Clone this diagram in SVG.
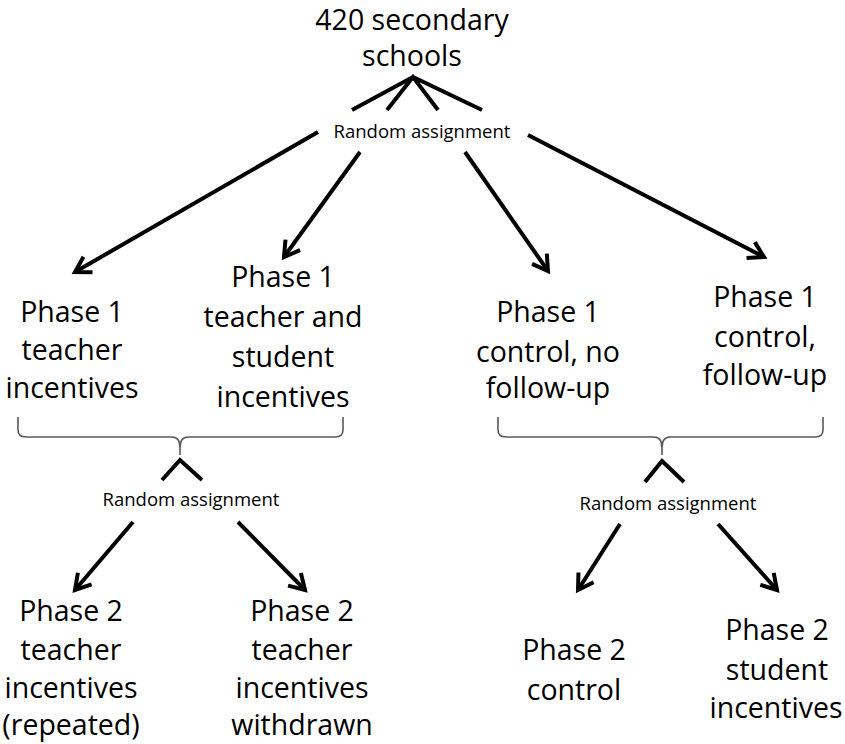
<svg xmlns="http://www.w3.org/2000/svg" width="845" height="744" viewBox="0 0 845 744">
<defs>
<style>
.t{font-family:"Open Sans","Liberation Sans",sans-serif;font-size:28.5px;fill:#000;text-anchor:middle}
.s{font-family:"Open Sans","Liberation Sans",sans-serif;font-size:18.5px;fill:#000;text-anchor:middle}
.ln{stroke:#000;stroke-width:4;fill:none;stroke-linecap:butt}
.br{stroke:#595959;stroke-width:1.6;fill:none}
</style>
<marker id="ah" markerUnits="userSpaceOnUse" markerWidth="30" markerHeight="30" viewBox="-20 -15 30 30" refX="0" refY="0" orient="auto">
<path d="M-15,-9 L0,0 L-15,9" stroke="#000" stroke-width="4" fill="none" stroke-linejoin="miter"/>
</marker>
</defs>
<rect width="845" height="744" fill="#fff"/>

<g id="root">
<text class="t" x="412" y="30">420 secondary</text>
<text class="t" x="412" y="66">schools</text>
</g>

<g id="ra-top"><text class="s" x="422" y="138">Random assignment</text></g>
<g id="ra-left"><text class="s" x="191" y="506">Random assignment</text></g>
<g id="ra-right"><text class="s" x="668" y="510">Random assignment</text></g>

<g id="p1-teacher">
<text class="t" x="72" y="322">Phase 1</text>
<text class="t" x="72" y="360">teacher</text>
<text class="t" x="72" y="398">incentives</text>
</g>
<g id="p1-teacher-student">
<text class="t" x="283" y="287">Phase 1</text>
<text class="t" x="283" y="327">teacher and</text>
<text class="t" x="283" y="367">student</text>
<text class="t" x="283" y="407">incentives</text>
</g>
<g id="p1-control-nofollow">
<text class="t" x="548" y="322">Phase 1</text>
<text class="t" x="548" y="362">control, no</text>
<text class="t" x="548" y="398">follow-up</text>
</g>
<g id="p1-control-follow">
<text class="t" x="765" y="307">Phase 1</text>
<text class="t" x="765" y="347">control,</text>
<text class="t" x="765" y="385">follow-up</text>
</g>

<g id="p2-teacher-repeated">
<text class="t" x="71" y="621">Phase 2</text>
<text class="t" x="71" y="660">teacher</text>
<text class="t" x="71" y="698">incentives</text>
<text class="t" x="71" y="735">(repeated)</text>
</g>
<g id="p2-teacher-withdrawn">
<text class="t" x="302" y="621">Phase 2</text>
<text class="t" x="302" y="660">teacher</text>
<text class="t" x="302" y="698">incentives</text>
<text class="t" x="302" y="735">withdrawn</text>
</g>
<g id="p2-control">
<text class="t" x="574" y="660">Phase 2</text>
<text class="t" x="574" y="700">control</text>
</g>
<g id="p2-student">
<text class="t" x="777" y="640">Phase 2</text>
<text class="t" x="777" y="680">student</text>
<text class="t" x="776" y="718">incentives</text>
</g>

<g id="connectors">
<path class="ln" d="M352,110 L413,77 L482,110 M387,110 L413,77 L438,110" stroke-linejoin="miter"/>
<line class="ln" x1="318" y1="132" x2="75" y2="272" marker-end="url(#ah)"/>
<line class="ln" x1="360" y1="152" x2="284" y2="257" marker-end="url(#ah)"/>
<line class="ln" x1="465" y1="152" x2="548" y2="271" marker-end="url(#ah)"/>
<line class="ln" x1="528" y1="135" x2="764" y2="257" marker-end="url(#ah)"/>

<path class="br" d="M18,417 L18,430 Q18,437 26,437 L172,437 Q180,437 180,448 L180,455 L180,448 Q180,437 188,437 L335,437 Q343,437 343,430 L343,417"/>
<path class="br" d="M498,417 L498,430 Q498,437 506,437 L654,437 Q662,437 662,448 L662,455 L662,448 Q662,437 670,437 L815,437 Q823,437 823,430 L823,417"/>

<path class="ln" d="M162,480 L180,460 L202,480"/>
<path class="ln" d="M645,482 L662,461 L684,482"/>

<line class="ln" x1="133" y1="522" x2="75" y2="590" marker-end="url(#ah)"/>
<line class="ln" x1="238" y1="522" x2="305" y2="590" marker-end="url(#ah)"/>
<line class="ln" x1="620" y1="524" x2="578" y2="590" marker-end="url(#ah)"/>
<line class="ln" x1="718" y1="524" x2="777" y2="590" marker-end="url(#ah)"/>
</g>
</svg>
